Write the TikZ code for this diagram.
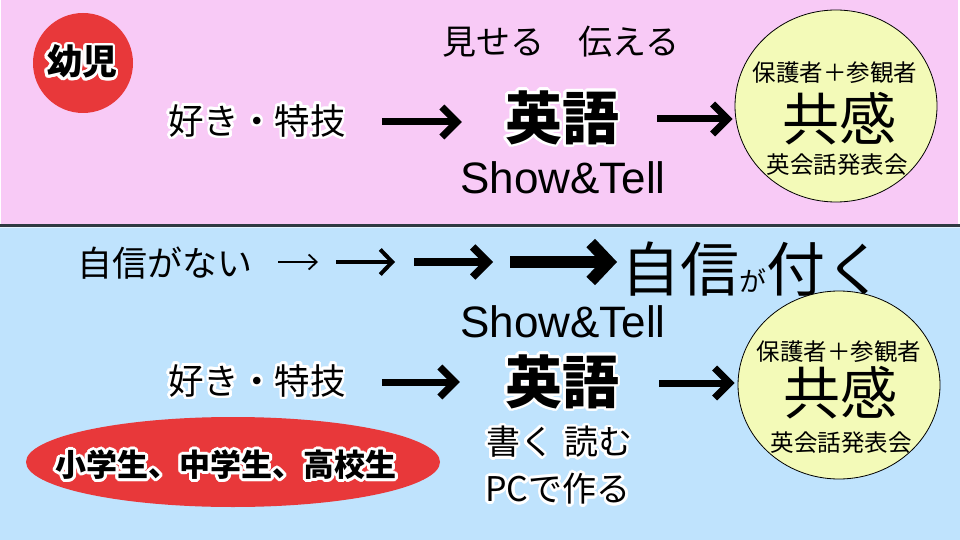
\documentclass[tikz,border=0pt]{standalone}
\usepackage{fontspec}
\usepackage{contour}
\usetikzlibrary{arrows.meta,shapes.geometric}
\setmainfont{Noto Sans CJK JP}
\newfontfamily\latinsans{Liberation Sans}
\contourlength{2.6pt}
\contournumber{24}
\newcommand\fsz[1]{\fontsize{#1}{#1}\selectfont}
\newcommand\hl[1]{\contour{white}{#1}}
\definecolor{pinkc}{HTML}{F8CAF6}
\definecolor{bluec}{HTML}{BFE3FD}
\definecolor{redc}{HTML}{E8383A}
\definecolor{yelc}{HTML}{F3FAB8}
\definecolor{linec}{HTML}{2F3A42}
\definecolor{lightc}{HTML}{E4F2FE}
\begin{document}
\begin{tikzpicture}[x=1pt,y=-1pt,
  txt/.style={inner sep=0pt, text=black},
  yel/.style={ellipse, draw=black, line width=0.8pt, fill=yelc, inner sep=0pt},
  arrT/.style={line width=7pt, -{Straight Barb[length=15pt,width=30pt]}},
  arrA/.style={line width=1.8pt, -{Straight Barb[length=8pt,width=15pt]}},
  arrB/.style={line width=4pt, -{Straight Barb[length=12pt,width=25pt]}},
  arrC/.style={line width=7.5pt, -{Straight Barb[length=15pt,width=30pt]}},
  arrD/.style={line width=12pt, -{Straight Barb[length=18pt,width=38pt]}}]
\useasboundingbox (0,0) rectangle (960,540);
\fill[white] (0,0) rectangle (960,540);
\fill[pinkc] (1,0) rectangle (958,224);
\fill[linec] (0,224) rectangle (960,227);
\fill[lightc] (0,227) rectangle (960,228);
\fill[bluec] (0,228) rectangle (960,540);

% ---------- top panel ----------
\node[circle, fill=redc, minimum size=100pt, inner sep=0pt] (kid) at (83,63) {};
\node[txt, font=\fsz{35}\bfseries] (kidt) at (82,63) {\hl{幼児}};
\node[txt, font=\fsz{35.5}] (like1) at (257,122) {\hl{好き・特技}};
\node[txt, font=\fsz{34}] (show1) at (561,42) {見せる　伝える};
\node[txt, font=\fsz{57}\bfseries] (eigo1) at (562,119) {\hl{英語}};
\node[txt, font=\fsz{44}\latinsans] (st1) at (563,178) {Show\&Tell};
\node[yel, minimum width=202pt, minimum height=192pt] (kyo1) at (836,106) {};
\node[txt, font=\fsz{23.5}] (par1) at (835,73) {保護者＋参観者};
\node[txt, font=\fsz{57}] (kan1) at (839,119) {共感};
\node[txt, font=\fsz{23.5}] (hap1) at (837,165) {英会話発表会};
\draw[arrT, shorten <=36pt, shorten >=43pt] (like1.east) -- (like1.east -| eigo1.west);
\draw[arrT, shorten <=38pt, shorten >=2pt] (eigo1.east) -- (eigo1.east -| kyo1.west);

% ---------- bottom panel ----------
\node[txt, font=\fsz{35}] (nai) at (165,263) {自信がない};
\node[txt, font=\fsz{59}, anchor=base] (tsuku) at (753,291) {自信{\fsz{27}が}付く};
\coordinate (p1) at (278,262);
\coordinate (p2) at (318,262);
\coordinate (p3) at (336,262);
\coordinate (p4) at (395,262);
\coordinate (p5) at (414,262);
\coordinate (p6) at (493,262);
\coordinate (p7) at (510,262);
\coordinate (p8) at (617,262);
\draw[arrA] (p1) -- (p2);
\draw[arrB] (p3) -- (p4);
\draw[arrC] (p5) -- (p6);
\draw[arrD] (p7) -- (p8);

\node[txt, font=\fsz{44}\latinsans] (st2) at (563,322) {Show\&Tell};
\node[txt, font=\fsz{35.5}] (like2) at (257,382) {\hl{好き・特技}};
\node[txt, font=\fsz{57}\bfseries] (eigo2) at (562,383) {\hl{英語}};
\node[yel, minimum width=202pt, minimum height=188pt] (kyo2) at (839,385) {};
\node[txt, font=\fsz{23.5}] (par2) at (839,352) {保護者＋参観者};
\node[txt, font=\fsz{57}] (kan2) at (840,393) {共感};
\node[txt, font=\fsz{23.5}] (hap2) at (841,443) {英会話発表会};
\draw[arrT, shorten <=36pt, shorten >=45pt] (like2.east) -- (like2.east -| eigo2.west);
\draw[arrT, shorten <=40pt, shorten >=3pt] (eigo2.east) -- (eigo2.east -| kyo2.west);

\node[ellipse, fill=redc, minimum width=414pt, minimum height=90pt, inner sep=0pt] (grade) at (233,462) {};
\node[txt, font=\fsz{31}\bfseries] (gradet) at (226,466) {\hl{小学生、中学生、高校生}};
\node[txt, font=\fsz{34}] (write) at (559,443) {\hl{書く\hspace{10pt}読む}};
\node[txt, font=\fsz{34}] (pc) at (558,490) {\hl{PCで作る}};
\end{tikzpicture}
\end{document}
